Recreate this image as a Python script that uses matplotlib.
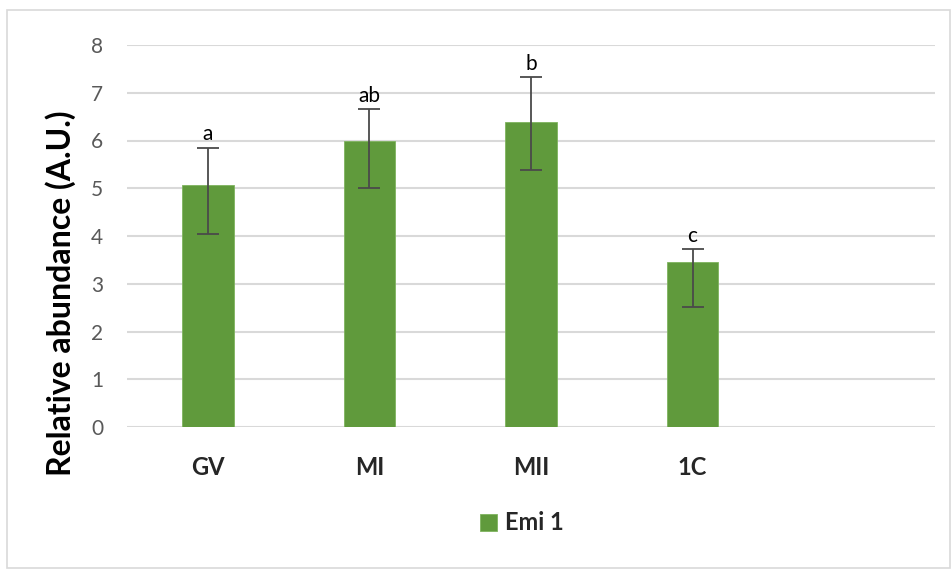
import matplotlib
matplotlib.use("Agg")
import matplotlib.pyplot as plt
from matplotlib.patches import Rectangle
import numpy as np

categories = ["GV", "MI", "MII", "1C", ""]
values = [5.06, 6.00, 6.39, 3.46]
err_upper = [0.79, 0.66, 0.93, 0.27]
err_lower = [1.01, 1.00, 1.01, 0.95]
letters = ["a", "ab", "b", "c"]
yticks = [0, 1, 2, 3, 4, 5, 6, 7, 8]
series_name = "Emi 1"

plt.rcParams['font.family'] = ['Lato', 'DejaVu Sans']

fig = plt.figure(figsize=(9.52, 5.69), dpi=100)
ax = fig.add_axes([127/952, 1-427/569, (935-127)/952, (427-45)/569])

x = np.arange(len(values))
bars = ax.bar(x, values, width=0.32, color='#609A3C', edgecolor='#7FB35E',
              linewidth=0.6, label=series_name, zorder=3)
ax.errorbar(x, values, yerr=[err_lower, err_upper], fmt='none',
            ecolor='#4A4A4A', elinewidth=1.3, capsize=8, capthick=1.3, zorder=4)

for xi, v, eu, lab in zip(x, values, err_upper, letters):
    ax.text(xi, v + eu + 0.07, lab, ha='center', va='bottom', fontsize=15,
            color='black')

ax.set_xlim(-0.5, len(categories) - 0.5)
ax.set_ylim(0, 8)
ax.set_yticks(yticks)
ax.set_yticklabels([str(t) for t in yticks], fontsize=15, color='#595959')
ax.set_xticks(x[:len(values)])
ax.set_xticklabels(categories[:len(values)], fontsize=17, fontweight='bold',
                   color='#262626')
ax.tick_params(axis='both', length=0)
ax.tick_params(axis='y', pad=17)
ax.tick_params(axis='x', pad=21)
ax.yaxis.grid(True, color='#D9D9D9', linewidth=1.5, zorder=0)
ax.set_axisbelow(True)
for s in ax.spines.values():
    s.set_visible(False)

ax.set_ylabel("Relative abundance (A.U.)", fontsize=23, fontweight='bold',
              color='black')
ax.yaxis.set_label_coords(-0.063, 0.35)

leg = fig.legend(handles=[bars], labels=[series_name], loc='center',
                 bbox_to_anchor=(522/952, 1-523/569), frameon=False,
                 prop={'size': 17, 'weight': 'bold'}, handlelength=0.7,
                 handleheight=0.7, handletextpad=0.35)
for t in leg.get_texts():
    t.set_color('#262626')

fig.patches.append(Rectangle((7/952, 0.002), 943/952, 1-10/569-0.002,
                             transform=fig.transFigure, fill=False,
                             edgecolor='#D9D9D9', linewidth=1.2))

fig.savefig("out.png", dpi=100)
